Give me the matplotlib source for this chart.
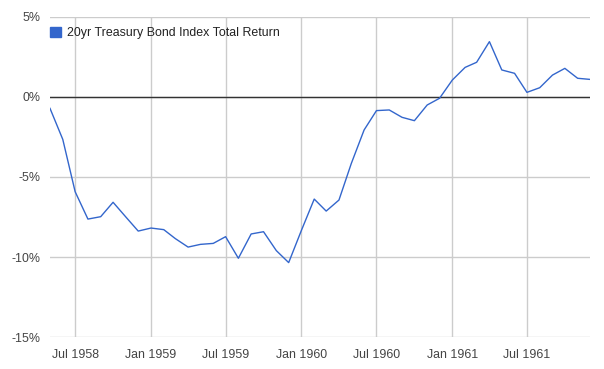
import matplotlib.pyplot as plt
import matplotlib.dates as mdates
import numpy as np
import datetime as dt

# monthly points, May 1958 .. Dec 1961
start_year, start_month = 1958, 5
returns = [-0.71, -2.65, -5.92, -7.63, -7.48, -6.58, -7.50, -8.38,
           -8.19, -8.29, -8.85, -9.38, -9.21, -9.15, -8.73, -10.08,
           -8.56, -8.42, -9.60, -10.35, -8.33, -6.38, -7.13, -6.44,
           -4.15, -2.06, -0.85, -0.81, -1.27, -1.48, -0.50, -0.08,
           1.06, 1.85, 2.17, 3.46, 1.69, 1.48, 0.29, 0.58,
           1.37, 1.79, 1.17, 1.10]
series_name = "20yr Treasury Bond Index Total Return"
y_ticks = [-15, -10, -5, 0, 5]
x_tick_labels = ["Jul 1958", "Jan 1959", "Jul 1959", "Jan 1960",
                 "Jul 1960", "Jan 1961", "Jul 1961"]

dates = []
for i in range(len(returns)):
    m = start_month - 1 + i
    dates.append(dt.date(start_year + m // 12, m % 12 + 1, 1))
tick_dates = [dt.datetime.strptime(s, "%b %Y").date() for s in x_tick_labels]

plt.rcParams['font.family'] = ['Liberation Sans', 'DejaVu Sans']
fig = plt.figure(figsize=(6.04, 3.69), dpi=100)
ax = fig.add_axes([50 / 604, 1 - 337 / 369, 540 / 604, 320 / 369])

ax.plot(dates, returns, color='#3366cc', lw=1, zorder=3)
ax.axhline(0, color='#333333', lw=1, zorder=2)

ax.set_xlim(dates[0], dates[-1])
ax.set_ylim(-15, 5)
ax.set_yticks(y_ticks)
ax.set_yticklabels([f"{v}%" for v in y_ticks])
ax.set_xticks([mdates.date2num(d) for d in tick_dates])
ax.set_xticklabels(x_tick_labels)

ax.grid(True, color='#cccccc', lw=1, zorder=0)
ax.set_axisbelow(True)
for s in ax.spines.values():
    s.set_visible(False)
ax.tick_params(length=0, labelsize=8.9, colors='#444444')
ax.tick_params(axis='y', pad=6.5)
ax.tick_params(axis='x', pad=8.5)

leg = ax.legend([plt.Rectangle((0, 0), 1, 1, color='#3366cc')], [series_name],
                loc='upper left', bbox_to_anchor=(-0.0083, 0.984), frameon=False,
                fontsize=8.9, handlelength=0.85, handleheight=0.85,
                handletextpad=0.45, borderaxespad=0)
for t in leg.get_texts():
    t.set_color('#222222')

fig.savefig('out.png', dpi=100)
